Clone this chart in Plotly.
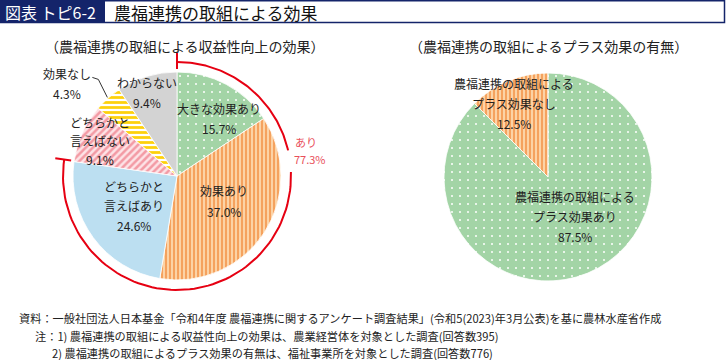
import math
import plotly.graph_objects as go

# ---------------- data ----------------
title_tag = "図表 トピ6-2"
title_text = "農福連携の取組による効果"
left_subtitle = "（農福連携の取組による収益性向上の効果）"
right_subtitle = "（農福連携の取組によるプラス効果の有無）"

left_categories = ["大きな効果あり", "効果あり", "どちらかと\n言えばあり", "どちらかと\n言えばない", "効果なし", "わからない"]
left_values = [15.7, 37.0, 24.6, 9.1, 4.3, 9.4]
positive_label = "あり"
positive_share = 77.3

right_categories = ["農福連携の取組による\nプラス効果あり", "農福連携の取組による\nプラス効果なし"]
right_values = [87.5, 12.5]

notes = [
    "資料：一般社団法人日本基金「令和4年度 農福連携に関するアンケート調査結果」(令和5(2023)年3月公表)を基に農林水産省作成",
    "注：1) 農福連携の取組による収益性向上の効果は、農業経営体を対象とした調査(回答数395)",
    "2) 農福連携の取組によるプラス効果の有無は、福祉事業所を対象とした調査(回答数776)",
]

# ---------------- styles ----------------
W, H = 726, 360
FONT = "Noto Sans CJK JP"
NAVY = "#14246a"
RED = "#e60012"
RED_TXT = "#e9505a"

GREEN_BG, GREEN_FG = "#a3d4a6", "#ffffff"
ORANGE_BG, ORANGE_FG = "#fcd3a6", "#f5a25e"
BLUE = "#bcdff1"
PINK_BG, PINK_FG = "#fde3e6", "#f39aa4"
YEL_BG, YEL_FG = "#ffffff", "#fdd10a"
GRAY = "#d3d3d3"

left_style = dict(
    colors=[GREEN_BG, ORANGE_BG, BLUE, PINK_BG, YEL_BG, GRAY],
    shape=[".", "|", "", "/", "-", ""],
    bg=[GREEN_BG, ORANGE_BG, BLUE, PINK_BG, YEL_BG, GRAY],
    fg=[GREEN_FG, ORANGE_FG, BLUE, PINK_FG, YEL_FG, GRAY],
    size=[8, 4, 8, 5, 5, 8],
    solidity=[0.05, 0.5, 0.3, 0.5, 0.55, 0.3],
)
right_style = dict(
    colors=[GREEN_BG, ORANGE_BG],
    shape=[".", "|"],
    bg=[GREEN_BG, ORANGE_BG],
    fg=[GREEN_FG, ORANGE_FG],
    size=[8, 4],
    solidity=[0.05, 0.5],
)

# pie geometry (pixels)
LC, RC, R = (177, 176), (548, 177), 104

# label anchor (first line center, px) and line spacing
left_label_pos = [(219, 108, 20), (224, 190, 21), (134, 186, 19.5), (100, 122, 18.5), (67, 73, 20), (147, 82, 20)]
right_label_pos = [(575, 196, 20), (514, 83, 20)]


def dom(c, r):
    return dict(x=[(c[0] - r) / W, (c[0] + r) / W], y=[(H - c[1] - r) / H, (H - c[1] + r) / H])


fig = go.Figure()

for cats, vals, st, c in [(left_categories, left_values, left_style, LC),
                          (right_categories, right_values, right_style, RC)]:
    fig.add_trace(go.Pie(
        labels=cats, values=vals, sort=False, direction="clockwise", rotation=0,
        textinfo="none", hoverinfo="label+value", showlegend=False,
        domain=dom(c, R),
        marker=dict(colors=st["colors"], line=dict(color="white", width=0.8),
                    pattern=dict(shape=st["shape"], bgcolor=st["bg"], fgcolor=st["fg"],
                                 size=st["size"], solidity=st["solidity"], fillmode="replace")),
    ))


def polar(c, r, frac):
    a = 2 * math.pi * frac
    return c[0] + r * math.sin(a), c[1] - r * math.cos(a)


# red arc showing positive share
pos_frac = positive_share / 100
ARC_R = 114
gap = (77 / 360, 88 / 360)
segs = [(0, gap[0]), (gap[1], pos_frac)]
for a0, a1 in segs:
    n = 80
    pts = [polar(LC, ARC_R, a0 + (a1 - a0) * i / n) for i in range(n + 1)]
    fig.add_trace(go.Scatter(x=[p[0] for p in pts], y=[p[1] for p in pts], mode="lines",
                             line=dict(color=RED, width=2), hoverinfo="skip", showlegend=False))
for f in (0, pos_frac):
    p0, p1 = polar(LC, 107, f), polar(LC, 123, f)
    fig.add_trace(go.Scatter(x=[p0[0], p1[0]], y=[p0[1], p1[1]], mode="lines",
                             line=dict(color=RED, width=2), hoverinfo="skip", showlegend=False))

# leader line for 効果なし
cum_before = sum(left_values[:4]) / sum(left_values)
mid = cum_before + left_values[4] / sum(left_values) / 2
ex, ey = polar(LC, R + 1, mid)
fig.add_trace(go.Scatter(x=[ex - 15, ex - 9, ex], y=[ey - 20, ey - 18, ey], mode="lines",
                         line=dict(color="#333333", width=1), hoverinfo="skip", showlegend=False))

ann = []


def add_lines(lines, x, y, dy, size=12, color="#222222"):
    for i, t in enumerate(lines):
        ann.append(dict(x=x, y=y + i * dy, text=t, showarrow=False, xref="x", yref="y",
                        xanchor="center", yanchor="middle",
                        font=dict(family=FONT, size=size, color=color)))


for cat, v, (x, y, dy) in zip(left_categories, left_values, left_label_pos):
    add_lines(cat.split("\n") + [f"{v:.1f}%"], x, y, dy)
for cat, v, (x, y, dy) in zip(right_categories, right_values, right_label_pos):
    add_lines(cat.split("\n") + [f"{v:.1f}%"], x, y, dy)

ann.append(dict(x=306, y=142, text=positive_label, showarrow=False, xref="x", yref="y",
                font=dict(family=FONT, size=11, color=RED_TXT)))
ann.append(dict(x=310, y=159, text=f"{positive_share:.1f}%", showarrow=False, xref="x", yref="y",
                font=dict(family=FONT, size=11, color=RED_TXT)))

# subtitles
ann.append(dict(x=185, y=46, text=left_subtitle, showarrow=False, xref="x", yref="y",
                font=dict(family=FONT, size=14, color="#222222")))
ann.append(dict(x=548, y=46, text=right_subtitle, showarrow=False, xref="x", yref="y",
                font=dict(family=FONT, size=14, color="#222222")))

# title
ann.append(dict(x=3, y=12, text=title_tag, showarrow=False, xref="x", yref="y", xanchor="left",
                font=dict(family=FONT, size=16, color="white")))
ann.append(dict(x=112, y=12, text=title_text, showarrow=False, xref="x", yref="y", xanchor="left",
                font=dict(family=FONT, size=17, color="#111111")))

# notes
for t, x, y in zip(notes, [17, 33, 50], [318, 336, 353]):
    ann.append(dict(x=x, y=y, text=t, showarrow=False, xref="x", yref="y", xanchor="left",
                    font=dict(family=FONT, size=11.2, color="#222222")))

shapes = [
    dict(type="rect", xref="x", yref="y", x0=0.75, y0=0.75, x1=724.5, y1=22.5,
         line=dict(color=NAVY, width=1.5), fillcolor="rgba(0,0,0,0)"),
    dict(type="rect", xref="x", yref="y", x0=0, y0=0, x1=105, y1=22.5,
         line=dict(width=0), fillcolor=NAVY),
]

fig.update_layout(
    width=W, height=H, margin=dict(l=0, r=0, t=0, b=0),
    paper_bgcolor="white", plot_bgcolor="rgba(0,0,0,0)",
    xaxis=dict(range=[0, W], visible=False, fixedrange=True),
    yaxis=dict(range=[H, 0], visible=False, fixedrange=True),
    annotations=ann, shapes=shapes, showlegend=False,
)

fig.write_html("out.html", config={"displayModeBar": False},
               post_script="document.body.style.margin='0';document.body.style.overflow='hidden';")
